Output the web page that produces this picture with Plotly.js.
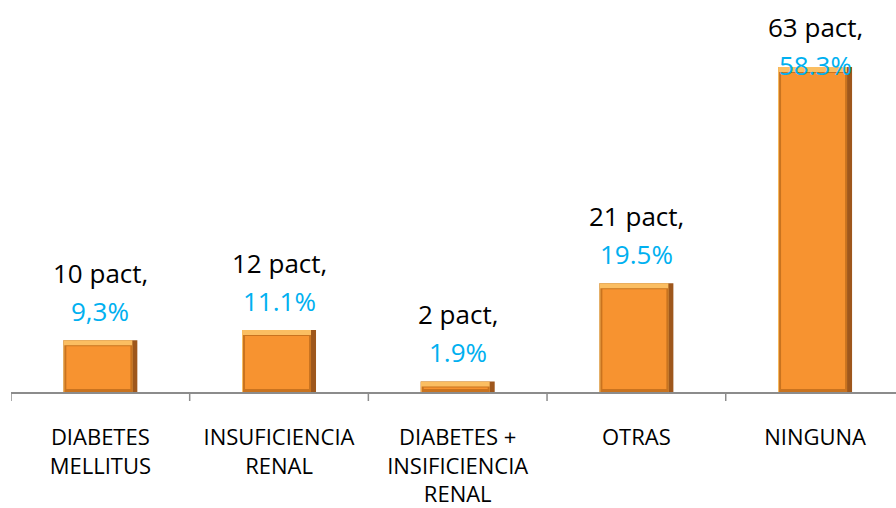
<!DOCTYPE html>
<html>
<head>
<meta charset="utf-8">
<script src="https://cdn.plot.ly/plotly-3.0.1.min.js"></script>
<style>
  html, body { margin: 0; padding: 0; background: #ffffff; overflow: hidden; }
  #chart { width: 896px; height: 508px; }
</style>
</head>
<body>
<div id="chart"></div>
<script>
// Comorbilidades de los pacientes
const categorias = [
  'DIABETES<br>MELLITUS',
  'INSUFICIENCIA<br>RENAL',
  'DIABETES +<br>INSIFICIENCIA<br>RENAL',
  'OTRAS',
  'NINGUNA'
];
const pacientes = [10, 12, 2, 21, 63];
const porcentajes = [9.3, 11.1, 1.9, 19.5, 58.3];
const etiquetasPct = ['9,3%', '11.1%', '1.9%', '19.5%', '58.3%'];

// Geometry of the plotting area (pixels)
const W = 896, H = 508;
const M = { l: 11, r: 0, t: 0, b: 116 };
const plotW = W - M.l - M.r;
const plotH = H - M.t - M.b;
const xRange = [-0.5, 4.453];
const yRange = [0, 70.3];
const pxX = plotW / (xRange[1] - xRange[0]);   // pixels per category unit
const pxY = plotH / (yRange[1] - yRange[0]);   // pixels per percent

const barW = 74 / pxX;                          // bar width in category units
const ux = p => p / pxX;                         // pixel -> x units
const uy = p => p / pxY;                         // pixel -> y units

const idx = categorias.map((_, i) => i);

// Bevelled bar: dark edge, light top/left highlight, orange face
const edge = {
  type: 'bar', x: idx, y: porcentajes,
  width: barW, offset: -barW / 2,
  marker: { color: '#9E571C', line: { width: 0 } },
  hoverinfo: 'skip', showlegend: false
};
const highlight = {
  type: 'bar', x: idx, y: porcentajes,
  width: barW - ux(5), offset: -barW / 2,
  marker: { color: '#FBBE62', line: { width: 0 } },
  hoverinfo: 'skip', showlegend: false
};
const shade = {
  type: 'bar', x: idx,
  y: porcentajes.map(v => Math.max(v - uy(5), 0)),
  base: 0,
  width: barW - ux(6), offset: -barW / 2 + ux(1),
  marker: { color: '#C9731F', line: { width: 0 } },
  hoverinfo: 'skip', showlegend: false
};
const face = {
  type: 'bar', x: idx,
  y: porcentajes.map(v => Math.max(v - uy(6) - uy(3), 0.05)),
  base: porcentajes.map(() => uy(3)),
  width: barW - ux(10), offset: -barW / 2 + ux(3),
  marker: { color: '#F79330', line: { width: 0 } },
  hoverinfo: 'skip', showlegend: false
};

// Two-line data labels above each bar, kept inside the top of the chart
const annotations = [];
porcentajes.forEach((v, i) => {
  const topPx = plotH - v * pxY;                 // bar top measured from plot top
  const pctCenter = Math.max(topPx - 29, 65);
  const shift = topPx - pctCenter;
  annotations.push({
    x: i, y: v, xref: 'x', yref: 'y',
    text: etiquetasPct[i], showarrow: false,
    yanchor: 'middle', yshift: shift,
    font: { family: 'Open Sans, sans-serif', size: 26, color: '#00B0F0' }
  });
  annotations.push({
    x: i, y: v, xref: 'x', yref: 'y',
    text: pacientes[i] + ' pact,', showarrow: false,
    yanchor: 'middle', yshift: shift + 38,
    font: { family: 'Open Sans, sans-serif', size: 26, color: '#000000' }
  });
});

const layout = {
  width: W, height: H,
  margin: M,
  paper_bgcolor: '#ffffff', plot_bgcolor: '#ffffff',
  barmode: 'overlay',
  showlegend: false,
  xaxis: {
    type: 'linear',
    range: xRange,
    tickmode: 'array',
    tickvals: idx,
    ticktext: categorias,
    ticks: '',
    showgrid: false, zeroline: false,
    showline: true, linecolor: '#8C8C8C', linewidth: 1.5,
    tickfont: { family: 'Open Sans, sans-serif', size: 22, color: '#000000' },
    ticklabelstandoff: 25,
    fixedrange: true
  },
  yaxis: {
    range: yRange, visible: false, fixedrange: true
  },
  annotations: annotations,
  // category boundary tick marks below the axis line
  shapes: [-0.5, 0.5, 1.5, 2.5, 3.5].map(b => ({
    type: 'line', xref: 'x', yref: 'paper',
    x0: b, x1: b, y0: 0, y1: -uy(9) / (yRange[1] - yRange[0]),
    line: { color: '#8C8C8C', width: 1.5 }
  }))
};

Plotly.newPlot('chart', [edge, highlight, shade, face], layout, { staticPlot: true, displayModeBar: false });
</script>
</body>
</html>
